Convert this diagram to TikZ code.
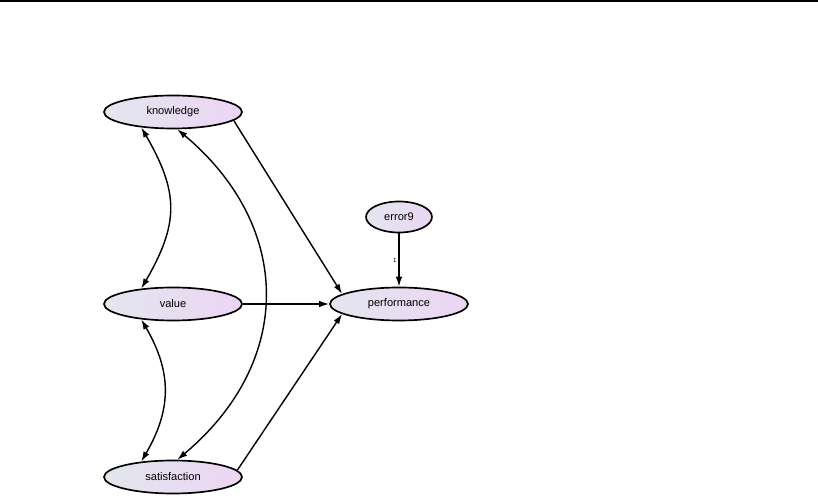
\documentclass[tikz,border=0pt]{standalone}
\usepackage{fontspec}
\setmainfont{Liberation Sans}
\usetikzlibrary{arrows.meta,shapes.geometric}
\definecolor{latleft}{RGB}{226,230,238}
\definecolor{latright}{RGB}{236,213,244}

\begin{document}
\begin{tikzpicture}[x=0.02cm, y=-0.02cm,
                    latent/.style={ellipse, draw, line width=0.95pt, inner sep=0pt,
                                   minimum width=2.76cm, minimum height=0.66cm,
                                   left color=latleft, right color=latright,
                                   font=\fontsize{6.3}{7}\selectfont},
                    errvar/.style={latent, minimum width=1.32cm, minimum height=0.62cm},
                    path/.style={line width=0.8pt, -{Latex[length=2mm,width=1.3mm]}},
                    cov/.style={line width=0.8pt, {Latex[length=2mm,width=1.3mm]}-{Latex[length=2mm,width=1.3mm]}}
]
\useasboundingbox (0,0) rectangle (818,499);
\draw[line width=0.7pt] (0,1) -- (818,1);

\node [latent] at (173,112) (know) {knowledge};
\node [latent] at (173,304) (val) {value};
\node [latent] at (173,477) (sat) {satisfaction};
\node [latent] at (399,304) (perf) {performance};
\node [errvar] at (399,217) (err9) {error9};
%
\draw[cov] (know.206) to[out=-60, in=60, looseness=1.2] (val.154);
\draw[cov] (val.206) to[out=-60, in=60, looseness=1.1] (sat.154);
\draw[cov] (know.284) to[out=-40, in=40, looseness=1.18] (sat.76);
%
\draw[path] (know.352) -- (perf.170);
\draw[path] (val) -- (perf);
\draw[path] (sat.6) -- (perf.190);
\draw[path] (err9) -- node[left, font=\fontsize{3.5}{4}\selectfont, inner sep=1pt] {1} (perf);
\end{tikzpicture}
\end{document}
